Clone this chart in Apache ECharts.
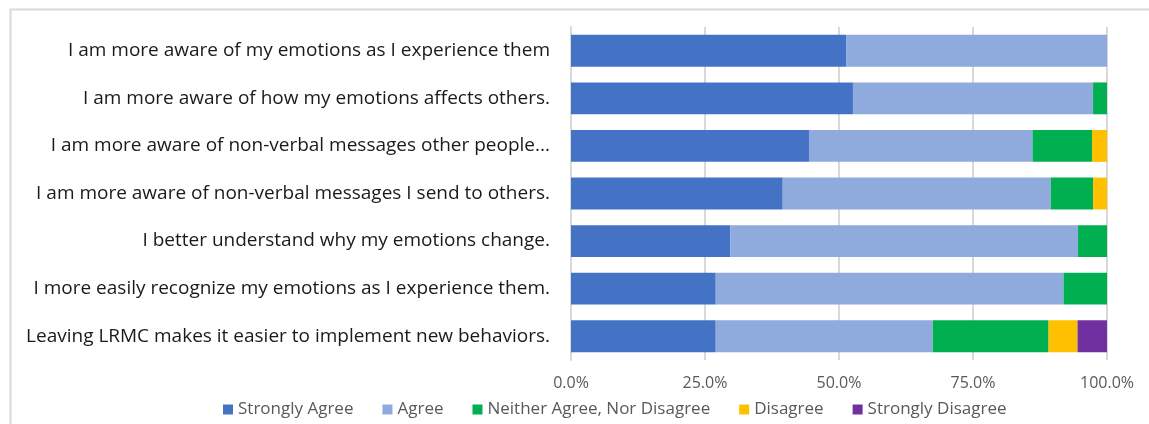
<!DOCTYPE html>
<html>
<head>
<meta charset="utf-8">
<script src="https://cdn.jsdelivr.net/npm/echarts@6/dist/echarts.min.js"></script>
<style>
  html, body { margin: 0; padding: 0; background: #fff; }
  #chart { width: 1149px; height: 424px; }
</style>
</head>
<body>
<div id="chart"></div>
<script>
// statements, top to bottom
const categories = [
  'I am more aware of my emotions as I experience them',
  'I am more aware of how my emotions affects others.',
  'I am more aware of non-verbal messages other people...',
  'I am more aware of non-verbal messages I send to others.',
  'I better understand why my emotions change.',
  'I more easily recognize my emotions as I experience them.',
  'Leaving LRMC makes it easier to implement new behaviors.'
];
const xTicks = ['0.0%', '25.0%', '50.0%', '75.0%', '100.0%'];

const stronglyAgree    = [51.4, 52.6, 44.4, 39.5, 29.7, 27.0, 27.0];
const agree            = [48.6, 44.8, 41.7, 50.0, 64.9, 64.9, 40.5];
const neither          = [0,    2.6,  11.1, 7.9,  5.4,  8.1,  21.6];
const disagree         = [0,    0,    2.8,  2.6,  0,    0,    5.4];
const stronglyDisagree = [0,    0,    0,    0,    0,    0,    5.5];

const seriesNames = ['Strongly Agree', 'Agree', 'Neither Agree, Nor Disagree', 'Disagree', 'Strongly Disagree'];
const seriesColors = ['#4472C4', '#8FAADC', '#00B050', '#FFC000', '#7030A0'];
const seriesData = [stronglyAgree, agree, neither, disagree, stronglyDisagree];

const chart = echarts.init(document.getElementById('chart'), null, { renderer: 'canvas' });

const font = '"Open Sans", "Liberation Sans", Arial, sans-serif';

let series = [];
for (let i = 0; i < seriesNames.length; i++) {
  series.push({
    name: seriesNames[i],
    type: 'bar',
    stack: 'total',
    barWidth: '67%',
    itemStyle: { color: seriesColors[i] },
    data: seriesData[i]
  });
}

const option = {
  animation: false,
  color: seriesColors,
  // light frame around the chart, like the office chart area
  graphic: [{
    type: 'rect',
    left: 8,
    top: 7,
    shape: { width: 1140, height: 440 },
    style: { fill: 'none', stroke: '#d9d9d9', lineWidth: 2 },
    silent: true
  }],
  grid: { left: 571, right: 42, top: 27, bottom: 64 },
  legend: {
    left: 218,
    bottom: 1,
    itemWidth: 10,
    itemHeight: 10,
    itemGap: 29,
    icon: 'rect',
    textStyle: { color: '#595959', fontSize: 17, fontFamily: font }
  },
  xAxis: {
    type: 'value',
    min: 0,
    max: 100,
    interval: 25,
    axisLine: { show: false },
    axisTick: { show: false },
    splitLine: { lineStyle: { color: '#d9d9d9', width: 2 } },
    axisLabel: {
      margin: 15,
      color: '#595959',
      fontSize: 16,
      fontFamily: font,
      formatter: function (v) { return xTicks[Math.round(v / 25)]; }
    }
  },
  yAxis: {
    type: 'category',
    inverse: true,
    data: categories,
    axisLine: { lineStyle: { color: '#d9d9d9', width: 2 } },
    axisTick: { show: false },
    axisLabel: {
      margin: 21,
      color: '#1a1a1a',
      fontSize: 19,
      fontFamily: font
    }
  },
  series: series
};

chart.setOption(option);
</script>
</body>
</html>
